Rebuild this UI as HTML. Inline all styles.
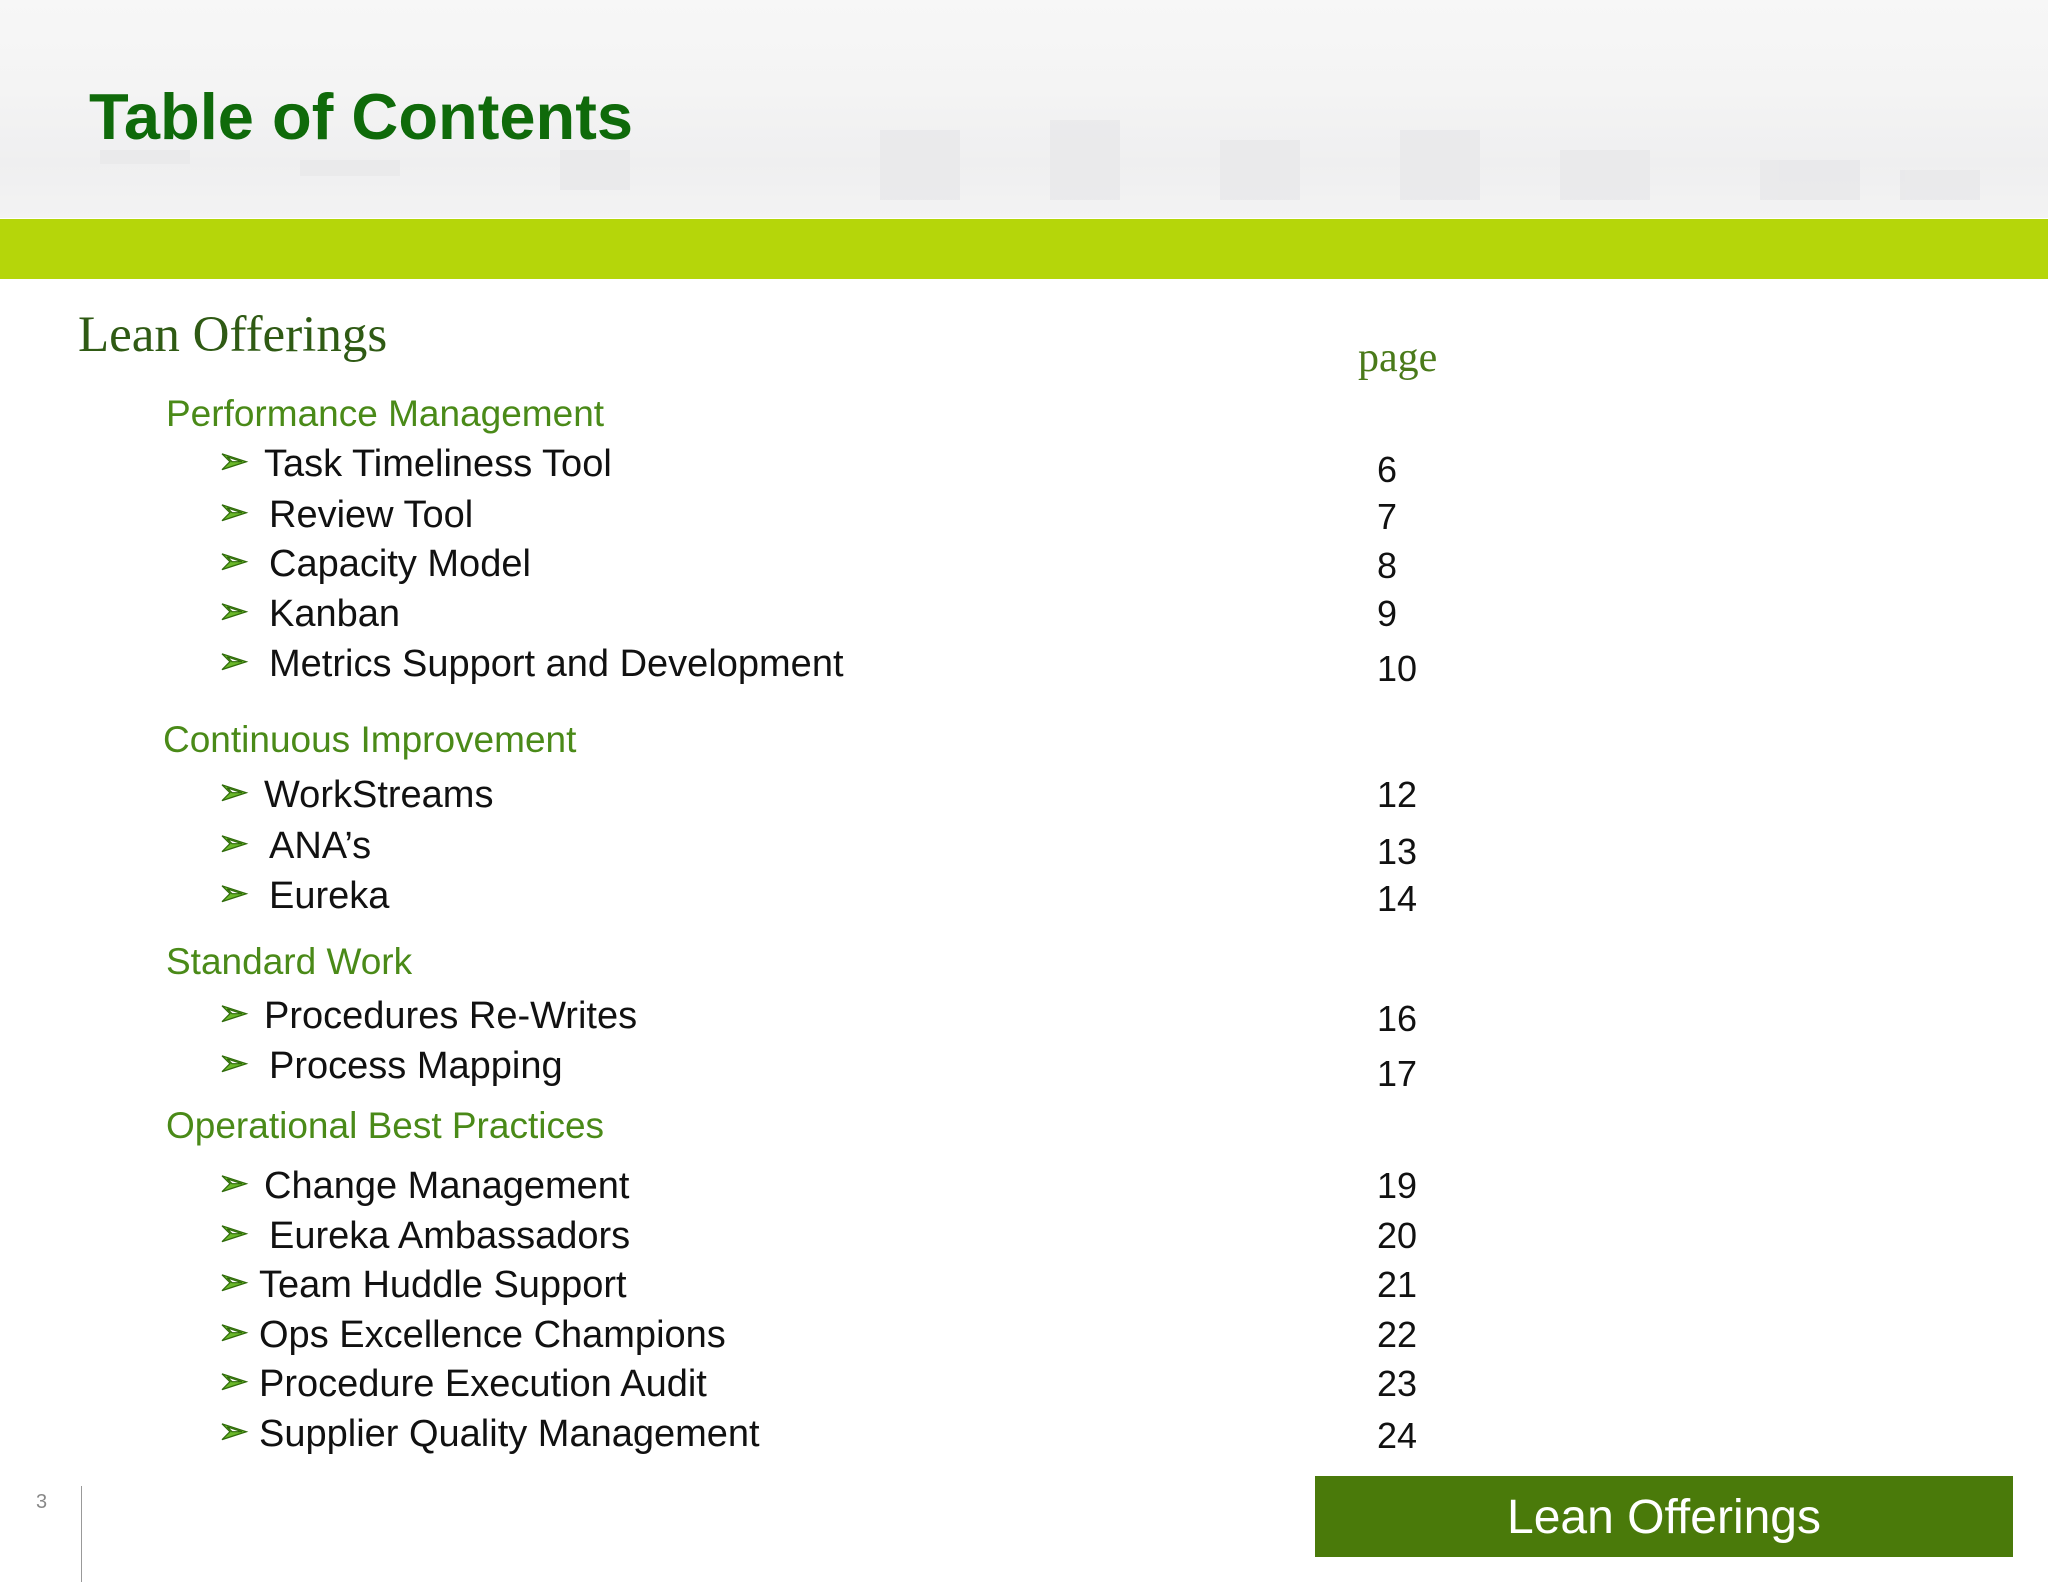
<!DOCTYPE html>
<html><head><meta charset="utf-8"><style>
body{margin:0;width:2048px;height:1582px;position:relative;overflow:hidden;background:#fff;font-family:"Liberation Sans",sans-serif}
.a{position:absolute;white-space:nowrap;line-height:1}
.sec{font-size:37px;color:#4a8a18}
.it{font-size:38px;color:#111}
.ar{font-size:36px;color:#6ab82a;font-family:"DejaVu Sans",sans-serif;-webkit-text-stroke:1.2px #2f6a0a}
.pg{font-size:36px;color:#111}
</style></head><body>
<div class="a" style="left:0;top:0;width:2048px;height:218px;background:linear-gradient(#f7f7f7 0%,#f4f4f4 40%,#efeff0 75%,#f3f3f3 100%)"></div>
<svg class="a" style="left:0;top:90px" width="2048" height="128">
<g fill="#e6e6e8" opacity="0.6">
<rect x="100" y="60" width="90" height="14"/><rect x="300" y="70" width="100" height="16"/><rect x="560" y="60" width="70" height="40"/><rect x="880" y="40" width="80" height="70"/><rect x="1050" y="30" width="70" height="80"/><rect x="1220" y="50" width="80" height="60"/><rect x="1400" y="40" width="80" height="70"/><rect x="1560" y="60" width="90" height="50"/><rect x="1760" y="70" width="100" height="40"/><rect x="1900" y="80" width="80" height="30"/>
</g></svg>
<div class="a" style="left:89px;top:84px;font-size:65px;font-weight:bold;color:#0f6a0a">Table of Contents</div>
<div class="a" style="left:0;top:219px;width:2048px;height:60px;background:#b5d60a"></div>
<div class="a" style="left:78px;top:310px;font-size:51px;color:#2f5a14;font-family:'Liberation Serif',serif">Lean Offerings</div>
<div class="a" style="left:1358px;top:337px;font-size:42px;color:#4a7a1a;font-family:'Liberation Serif',serif">page</div>

<div class="a sec" style="left:166px;top:395px">Performance Management</div>
<div class="a sec" style="left:163px;top:721px">Continuous Improvement</div>
<div class="a sec" style="left:166px;top:943px">Standard Work</div>
<div class="a sec" style="left:166px;top:1107px">Operational Best Practices</div>

<div id="items"></div>
<script>
const labels=["Task Timeliness Tool","Review Tool","Capacity Model","Kanban","Metrics Support and Development","WorkStreams","ANA’s","Eureka","Procedures Re-Writes","Process Mapping","Change Management","Eureka Ambassadors","Team Huddle Support","Ops Excellence Champions","Procedure Execution Audit","Supplier Quality Management"];
const pages=["6","7","8","9","10","12","13","14","16","17","19","20","21","22","23","24"];
const rowY=[477,528,577,627,677,808,859,909,1029,1079,1199,1249,1298,1348,1397,1447];
const pageY=[483,530,579,627,682,808,865,912,1032,1087,1199,1249,1298,1348,1397,1449];
const textX=[264,269,269,269,269,264,269,269,264,269,264,269,259,259,259,259];
const root=document.getElementById('items');
labels.forEach((l,i)=>{
  const ar=document.createElement('div');ar.className='a ar';ar.textContent='➢';
  ar.style.left='218px';ar.style.top=(rowY[i]-33)+'px';
  
  
  root.appendChild(ar);
  const t=document.createElement('div');t.className='a it';t.textContent=l;
  t.style.left=textX[i]+'px';t.style.top=(rowY[i]-32)+'px';
  
  
  root.appendChild(t);
  const p=document.createElement('div');p.className='a pg';p.textContent=pages[i];
  p.style.left='1377px';p.style.top=(pageY[i]-31)+'px';
  
  
  root.appendChild(p);
});
</script>
<div class="a" style="left:36px;top:1492px;font-size:20px;color:#888">3</div>
<div class="a" style="left:81px;top:1486px;width:1px;height:96px;background:#999"></div>
<div class="a" style="left:1315px;top:1476px;width:698px;height:81px;background:#4a7a0a"></div>
<div class="a" style="left:1315px;top:1494px;width:698px;text-align:center;font-size:48px;color:#fff">Lean Offerings</div>
</body></html>
